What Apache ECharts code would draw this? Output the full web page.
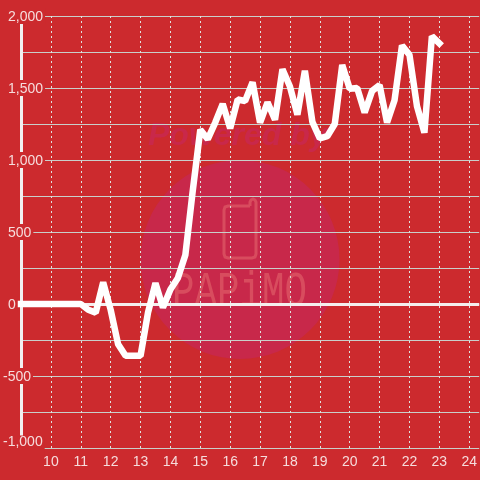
<!DOCTYPE html>
<html>
<head>
<meta charset="utf-8">
<style>html,body{margin:0;padding:0;background:#cc2a2e}#c{width:480px;height:480px}</style>
<script src="https://cdn.jsdelivr.net/npm/echarts@6/dist/echarts.min.js"></script>
</head>
<body>
<div id="c"></div>
<script>
const startHour = 9;
const stepHours = 0.25;
const slumpValues = [
  0,0,0,0, 0,0,0,0,
  0,-40,-60,150, -40,-280,-360,-360,
  -360,-60,145,-25, 100,180,340,790,
  1210,1145,1260,1390, 1220,1420,1410,1540,
  1260,1400,1280,1630, 1510,1315,1620,1265,
  1150,1165,1250,1660, 1495,1500,1330,1480,
  1520,1260,1415,1795, 1730,1375,1190,1860,
  1810
];
const seriesPoints = slumpValues.map((v, i) => [startHour + i * stepHours, v]);
const bg = '#cc2a2e';
const labelColor = '#f6dcdc';
const font = '"Liberation Sans", Arial, sans-serif';
const chart = echarts.init(document.getElementById('c'), null, {renderer: 'canvas'});
const fmt = v => Math.abs(v).toLocaleString('en-US');
chart.setOption({
  animation: false,
  backgroundColor: bg,
  grid: {left: 20, right: 0, top: 16, bottom: 32},
  xAxis: {
    type: 'value', min: 9, max: 24.3333, interval: 1,
    axisLine: {show: false}, axisTick: {show: false},
    axisLabel: {showMinLabel: false, showMaxLabel: false, color: labelColor, fontSize: 14, fontFamily: font, margin: 7},
    splitLine: {show: true, showMinLine: false, showMaxLine: false, lineStyle: {color: '#dfe3e0', width: 1, type: [2, 3]}}
  },
  yAxis: {
    type: 'value', min: -1000, max: 2000, interval: 250,
    axisLine: {show: true, onZero: false, lineStyle: {color: '#f2f0f0', width: 3}},
    axisTick: {show: false},
    axisLabel: {
      margin: 18, align: 'left', showMinLabel: true, showMaxLabel: true,
      formatter: v => {
        if (v % 500 !== 0) return '';
        if (v === -1000) return '{low|-' + fmt(v) + '}';
        if (v < 0) return '{neg|-' + fmt(v) + '}';
        return '{pos|' + fmt(v) + '}';
      },
      rich: {
        pos: {color: labelColor, fontSize: 14, fontFamily: font, lineHeight: 14, backgroundColor: bg, padding: [2, 2, 0, 5]},
        neg: {color: labelColor, fontSize: 14, fontFamily: font, lineHeight: 14, backgroundColor: bg, padding: [2, 2, 0, 0]},
        low: {color: labelColor, fontSize: 14, fontFamily: font, lineHeight: 14, backgroundColor: bg, padding: [0, 2, 11, 0]}
      }
    },
    splitLine: {show: true, lineStyle: {color: '#c9cfcb', width: 1}}
  },
  graphic: {elements: [
    {type: 'circle', z: -2, silent: true, shape: {cx: 240, cy: 259.5, r: 99.5}, style: {fill: '#c8284a'}},
    {type: 'text', z: -1, silent: true, x: 148, y: 120, style: {text: 'Powered by', font: 'italic bold 32px ' + font, fill: '#c9284a'}},
    {type: 'polyline', z: -1, silent: true,
      shape: {points: [[250,206],[228,206],[225,207],[224,210],[224,254],[225,257],[228,258],[252,258],[255,257],[256,254],[256,202],[255,200],[253,199],[251,200],[250,202],[250,206]]},
      style: {fill: 'none', stroke: '#d84c5e', lineWidth: 3}},
    {type: 'text', z: -1, silent: true, x: 172, y: 268, scaleX: 0.75, style: {text: 'PAPiMO', font: '50px "Liberation Mono", monospace', fill: '#d84c5e'}}
  ]},
  series: [{
    type: 'line',
    data: seriesPoints,
    showSymbol: false,
    symbol: 'none',
    clip: false,
    lineStyle: {color: '#ffffff', width: 6.5, cap: 'square', join: 'bevel'},
    markLine: {
      silent: true, symbol: 'none', z: 1, label: {show: false},
      lineStyle: {color: '#f4eeee', width: 3, type: 'solid'},
      data: [{yAxis: 0}]
    }
  }]
});
</script>
</body>
</html>
